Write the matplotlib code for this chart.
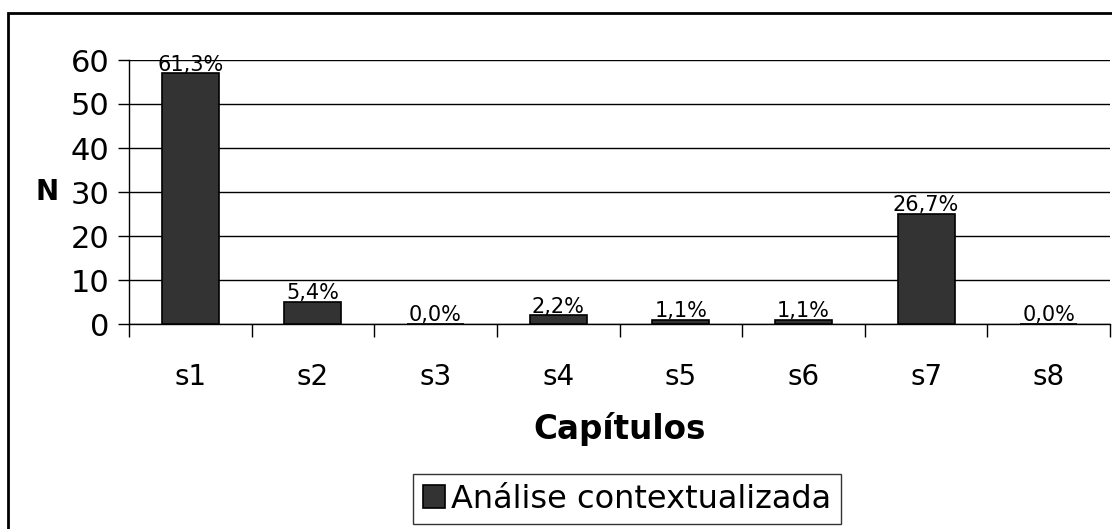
import numpy as np
import matplotlib.pyplot as plt
from matplotlib.patches import Rectangle

capitulos = ['s1', 's2', 's3', 's4', 's5', 's6', 's7', 's8']
valores = [57, 5, 0, 2, 1, 1, 25, 0]
percentuais = ['61,3%', '5,4%', '0,0%', '2,2%', '1,1%', '1,1%', '26,7%', '0,0%']

plt.rcParams['font.family'] = 'DejaVu Sans'

fig = plt.figure(figsize=(11.12, 5.29), dpi=100)
ax = fig.add_axes([129/1112, 1-324/529, (1110-129)/1112, (324-60)/529])

x = np.arange(len(capitulos))
bars = ax.bar(x, valores, width=0.465, color='#333333', edgecolor='black',
              linewidth=1.2, label='Análise contextualizada', zorder=3)
ax.bar_label(bars, labels=percentuais, padding=-1, fontsize=15)

ax.set_xlim(-0.5, 7.5)
ax.set_ylim(0, 60)
ax.set_yticks(range(0, 61, 10))
ax.yaxis.grid(True, color='black', linewidth=1)
ax.set_axisbelow(True)

ax.set_xticks(x)
ax.set_xticklabels(capitulos)
ax.set_xticks(np.arange(-0.5, 8, 1), minor=True)
ax.tick_params(axis='x', which='major', length=0, labelsize=20, pad=28)
ax.tick_params(axis='x', which='minor', length=9, width=1, direction='out')
ax.tick_params(axis='y', length=8, width=1, labelsize=22, pad=6)

for s in ['top', 'right']:
    ax.spines[s].set_visible(False)
ax.spines['left'].set_linewidth(1)
ax.spines['bottom'].set_linewidth(1)

ax.set_xlabel('Capítulos', fontsize=23.5, fontweight='bold', labelpad=15)
ax.set_ylabel('N', fontsize=20, fontweight='bold', rotation=0, labelpad=17, va='center')

fig.legend(loc='upper left', bbox_to_anchor=(413/1112, 1-474/529), fontsize=23,
           frameon=True, fancybox=False, edgecolor='black', borderaxespad=0,
           borderpad=0.3, handlelength=0.7, handleheight=0.7, handletextpad=0.2)

fig.patches.append(Rectangle((8/1112, -0.1), 1.2, 1-13/529+0.1, transform=fig.transFigure,
                             fill=False, edgecolor='black', linewidth=2))

fig.savefig('out.png', dpi=100)
